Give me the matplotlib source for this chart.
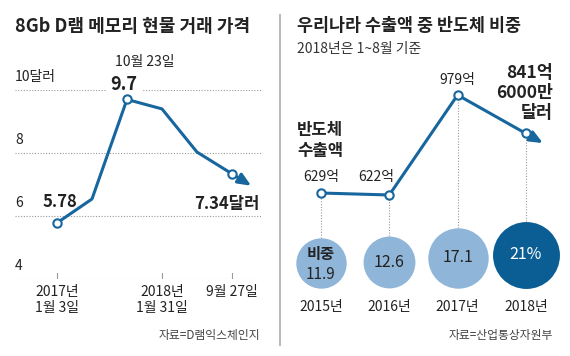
import matplotlib
matplotlib.use('Agg')
import matplotlib.pyplot as plt
import matplotlib.transforms as mtransforms
from matplotlib.lines import Line2D
import numpy as np

plt.rcParams['font.family'] = ['Noto Sans CJK KR', 'DejaVu Sans']

# left panel: 8Gb DRAM spot price (dollars)
price = [5.78, 6.54, 9.7, 9.4, 8.03, 7.34]
price_marked = [0, 2, 5]
price_ticks = [0, 3, 5]
price_tick_labels = ['2017년\n1월 3일', '2018년\n1월 31일', '9월 27일']
price_yticks = [4, 6, 8, 10]
price_ylabels = ['4', '6', '8', '10달러']

# right panel: semiconductor exports (100 million $) and share of total (%)
years = ['2015년', '2016년', '2017년', '2018년']
exports = [629, 622, 979, 841.6]
share = [11.9, 12.6, 17.1, 21]
share_labels = ['11.9', '12.6', '17.1', '21%']

W, H = 570, 356
BLUE = '#17669e'
LIGHT = '#8fb5d8'
DARK = '#0b5e94'
TXT = '#222222'
GRID = '#9a9a9a'
ARROW = dict(arrowstyle='-|>,head_length=0.7,head_width=0.3', color=BLUE,
             lw=2.2, shrinkA=0, shrinkB=0, mutation_scale=11)

fig = plt.figure(figsize=(W / 100, H / 100), dpi=100)


def px_box(x0, y0, x1, y1):
    return [x0 / W, 1 - y1 / H, (x1 - x0) / W, (y1 - y0) / H]


# ---------------- left chart
ax1 = fig.add_axes(px_box(15, 90, 261, 279))
ax1.set_xlim(-1.2, 5.83)
ax1.set_ylim(4, 10)
ax1.axis('off')

for v, lab in zip(price_yticks, price_ylabels):
    ax1.axhline(v, color=GRID, lw=0.8, ls=(0, (1, 1.5)), zorder=1)
    ax1.annotate(lab, xy=(0, v), xycoords=('axes fraction', 'data'),
                 xytext=(0, 4), textcoords='offset points',
                 ha='left', va='bottom', size=10, color=TXT)

for x, lab in zip(price_ticks, price_tick_labels):
    ax1.axvline(x, ymin=0, ymax=0.032, color=GRID, lw=0.8)
    ax1.annotate(lab, xy=(x, 4), xytext=(0, -4), textcoords='offset points',
                 ha='center', va='top', size=10, color=TXT, linespacing=1.25)

xs = np.arange(len(price))
ax1.plot(xs, price, color=BLUE, lw=2.2, zorder=3)
end = (xs[-1] + 0.55 * (xs[-1] - xs[-2]), price[-1] + 0.55 * (price[-1] - price[-2]))
ax1.annotate('', xy=end, xytext=(xs[-1], price[-1]), arrowprops=ARROW, zorder=3)
ax1.plot(xs[price_marked], np.array(price)[price_marked], 'o', mfc='white',
         mec=BLUE, mew=1.5, ms=6, zorder=5)

ax1.annotate('10월 23일', xy=(2, price[2]), xytext=(13, 27), textcoords='offset points',
             ha='center', va='center', size=10, color=TXT)
ax1.annotate('9.7', xy=(2, price[2]), xytext=(-2, 11), textcoords='offset points',
             ha='center', va='center', size=13, weight='bold', color=TXT,
             bbox=dict(fc='white', ec='none', pad=3), zorder=4)
ax1.annotate('5.78', xy=(0, price[0]), xytext=(2, 15), textcoords='offset points',
             ha='center', va='center', size=12, weight='bold', color=TXT)
ax1.annotate('7.34달러', xy=(5, price[5]), xytext=(20, -21.5), textcoords='offset points',
             ha='right', va='center', size=12, weight='bold', color=TXT)

fig.text(15 / W, 1 - 26 / H, '8Gb D램 메모리 현물 거래 가격', ha='left', va='center',
         size=13, weight='bold', color=TXT)
fig.text(260 / W, 1 - 335 / H, '자료=D램익스체인지', ha='right', va='center',
         size=8.5, color='#444444')

fig.add_artist(Line2D([280 / W, 280 / W], [1 - 15 / H, 1 - 345 / H],
                      color='#bbbbbb', lw=1.5))

# ---------------- right chart
ax2 = fig.add_axes(px_box(285, 60, 570, 300))
ax2.set_xlim(-0.527, 3.646)
ax2.set_ylim(247, 1104)
ax2.axis('off')
ax_h_px = 240
base = 0.05

xr = np.arange(len(exports))
ax2.plot(xr, exports, color=BLUE, lw=2.2, zorder=3)
end2 = (xr[-1] + 0.25 * (xr[-1] - xr[-2]), exports[-1] + 0.25 * (exports[-1] - exports[-2]))
ax2.annotate('', xy=end2, xytext=(xr[-1], exports[-1]), arrowprops=ARROW, zorder=3)
ax2.plot(xr, exports, 'o', mfc='white', mec=BLUE, mew=1.5, ms=6, zorder=5)

blend = mtransforms.blended_transform_factory(ax2.transData, ax2.transAxes)
ylo, yhi = ax2.get_ylim()
for i, (v, e) in enumerate(zip(share, exports)):
    s = 110.5 * v
    r_pt = np.sqrt(s) / 2
    t = blend + mtransforms.ScaledTranslation(0, r_pt / 72, fig.dpi_scale_trans)
    col = DARK if i == len(share) - 1 else LIGHT
    ax2.scatter([i], [base], s=s, color=col, transform=t, zorder=2,
                clip_on=False, linewidths=0)
    top = base + 2 * r_pt * 100 / 72 / ax_h_px
    ax2.axvline(i, ymin=top, ymax=(e - ylo) / (yhi - ylo), color=GRID,
                lw=0.8, ls=(0, (1, 1.5)), zorder=1)
    tc = 'white' if i == len(share) - 1 else TXT
    if i == 0:
        ax2.text(i, base, '비중', transform=t + mtransforms.ScaledTranslation(0, 6 / 72, fig.dpi_scale_trans),
                 ha='center', va='center', size=11, weight='bold', color=tc)
        ax2.text(i, base, share_labels[i], transform=t + mtransforms.ScaledTranslation(0, -8.5 / 72, fig.dpi_scale_trans),
                 ha='center', va='center', size=11, color=tc)
    else:
        ax2.text(i, base, share_labels[i], transform=t,
                 ha='center', va='center', size=11.5, color=tc)
    ax2.annotate(years[i], xy=(i, base), xycoords=blend, xytext=(0, -14),
                 textcoords='offset points', ha='center', va='center',
                 size=10, color=TXT)

ax2.annotate('629억', xy=(0, exports[0]), xytext=(0, 11.5), textcoords='offset points',
             ha='center', va='center', size=10, color=TXT)
ax2.annotate('622억', xy=(1, exports[1]), xytext=(-9.5, 13), textcoords='offset points',
             ha='center', va='center', size=10, color=TXT)
ax2.annotate('979억', xy=(2, exports[2]), xytext=(0, 11), textcoords='offset points',
             ha='center', va='center', size=10, color=TXT)
ax2.annotate('841억\n6000만\n달러', xy=(3, exports[3]), xytext=(19.5, 29),
             textcoords='offset points', ha='right', va='center', size=12.5,
             weight='bold', color=TXT, linespacing=1.15)
ax2.annotate('반도체\n수출액', xy=(0, exports[0]), xytext=(-17.3, 38),
             textcoords='offset points', ha='left', va='center', size=12,
             weight='bold', color=TXT, linespacing=1.2)

fig.text(297 / W, 1 - 26 / H, '우리나라 수출액 중 반도체 비중', ha='left', va='center',
         size=12.5, weight='bold', color=TXT)
fig.text(297 / W, 1 - 49 / H, '2018년은 1~8월 기준', ha='left', va='center',
         size=10, color='#333333')
fig.text(553 / W, 1 - 335 / H, '자료=산업통상자원부', ha='right', va='center',
         size=8.5, color='#444444')

fig.savefig('out.png', dpi=100)
